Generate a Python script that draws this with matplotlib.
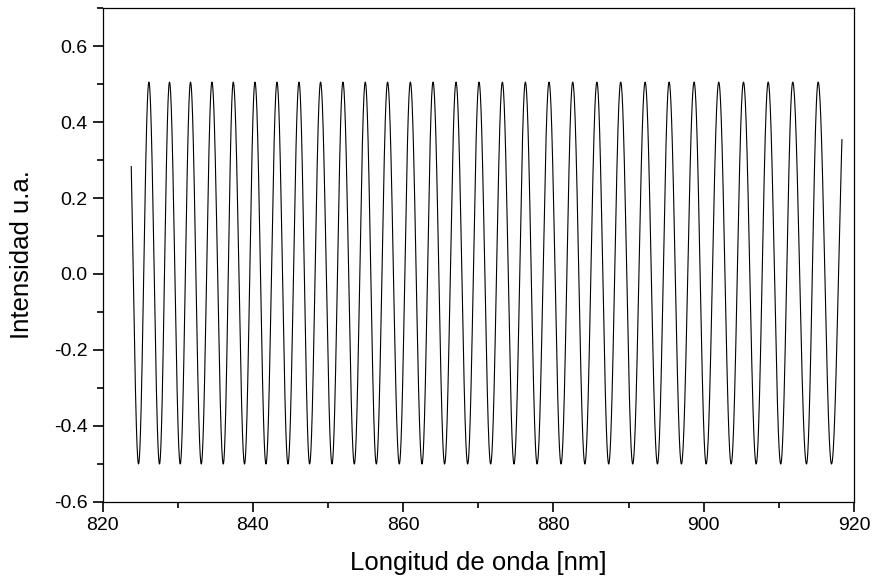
import numpy as np
import matplotlib
matplotlib.use("Agg")
import matplotlib.pyplot as plt
from matplotlib.ticker import MultipleLocator, FormatStrFormatter

plt.rcParams['font.family'] = ['Liberation Sans', 'DejaVu Sans']

# Fringe extrema (wavelength in nm) and their intensities
trough_nm = [824.77, 827.56, 830.32, 833.12, 836.05, 838.88, 841.73, 844.66,
             847.54, 850.52, 853.49, 856.42, 859.48, 862.50, 865.51, 868.58,
             871.64, 874.75, 877.82, 881.01, 884.18, 887.35, 890.55, 893.84,
             897.03, 900.32, 903.65, 906.98, 910.25, 913.68, 917.01]
peak_nm = [826.15, 828.89, 831.69, 834.54, 837.38, 840.27, 843.20, 846.13,
           849.00, 851.98, 854.95, 857.92, 860.95, 863.97, 867.03, 870.09,
           873.20, 876.26, 879.41, 882.56, 885.78, 888.95, 892.20, 895.39,
           898.72, 902.00, 905.29, 908.58, 911.85, 915.23]
peak_value = 0.505
trough_value = -0.5
start_nm, start_value = 823.8, 0.28
end_nm, end_value = 918.4, 0.35

# Build the fringe trace: each extremum fixes a phase, the trace follows a
# cosine between consecutive extrema.
anchor_nm = [start_nm]
anchor_phase = [np.arccos(start_value / 0.5)]
for k, t in enumerate(trough_nm):
    anchor_nm.append(t)
    anchor_phase.append((2 * k + 1) * np.pi)
    if k < len(peak_nm):
        anchor_nm.append(peak_nm[k])
        anchor_phase.append((2 * k + 2) * np.pi)
anchor_nm.append(end_nm)
anchor_phase.append(2 * len(trough_nm) * np.pi - np.arccos(end_value / 0.5))

wl = np.linspace(start_nm, end_nm, 6000)
phase = np.interp(wl, anchor_nm, anchor_phase)
c = np.cos(phase)
intensity = np.where(c >= 0, c * peak_value, -c * trough_value)

fig = plt.figure(figsize=(8.74, 5.81), dpi=100)
ax = fig.add_axes([0.1175, 0.136, 0.8596, 0.8502])
ax.plot(wl, intensity, color='black', linewidth=0.8)

ax.set_xlim(820, 920)
ax.set_ylim(-0.6, 0.7)
ax.xaxis.set_major_locator(MultipleLocator(20))
ax.xaxis.set_minor_locator(MultipleLocator(10))
ax.yaxis.set_major_locator(MultipleLocator(0.2))
ax.yaxis.set_minor_locator(MultipleLocator(0.1))
ax.yaxis.set_major_formatter(FormatStrFormatter('%.1f'))
ax.tick_params(which='both', direction='out', top=False, right=False,
               width=1.2, labelsize=14)
ax.tick_params(which='major', length=7, pad=4)
ax.tick_params(which='minor', length=4.5)
for s in ax.spines.values():
    s.set_linewidth(0.9)

ax.set_xlabel('Longitud de onda [nm]', fontsize=18.5, labelpad=12)
ax.set_ylabel('Intensidad u.a.', fontsize=18.5, labelpad=14)

fig.savefig('out.png', dpi=100)
